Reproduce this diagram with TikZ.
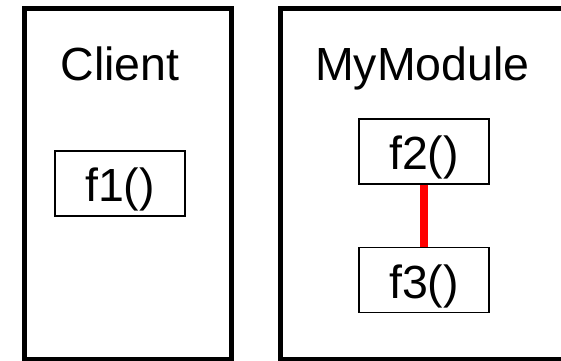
\documentclass[tikz,border=0pt]{standalone}
\usepackage{fontspec}
\setmainfont{Liberation Sans}
\begin{document}
\begin{tikzpicture}[x=1pt,y=-1pt,
  modulebox/.style={draw=black,line width=5pt},
  title/.style={anchor=base,inner sep=0pt,font=\fontsize{46.5}{50}\selectfont},
  funcbox/.style={draw=black,line width=1.8pt,minimum width=130pt,minimum height=65pt,
    inner sep=0pt,text height=40pt,text depth=4pt,font=\fontsize{46.5}{50}\selectfont},
  link/.style={draw=red,line width=8pt}]
  \useasboundingbox (0,0) rectangle (561,360);
  \clip (0,0) rectangle (561,360);
  \fill[white] (0,0) rectangle (561,360);
  % the two modules
  \draw[modulebox] (24,8) rectangle (231.8,359);
  \draw[modulebox] (280.2,8) rectangle (570,359);
  % module names
  \node[title] (client) at (120,80) {Client};
  \node[title] (mymodule) at (422.5,80) {MyModule};
  % functions
  \node[funcbox] (f1) at (120,183.5) {f1()};
  \node[funcbox] (f2) at (424,151.5) {f2()};
  \node[funcbox] (f3) at (424,280) {f3()};
  % dependency between f2 and f3
  \draw[link] (f2.south) -- (f3.north);
\end{tikzpicture}
\end{document}
